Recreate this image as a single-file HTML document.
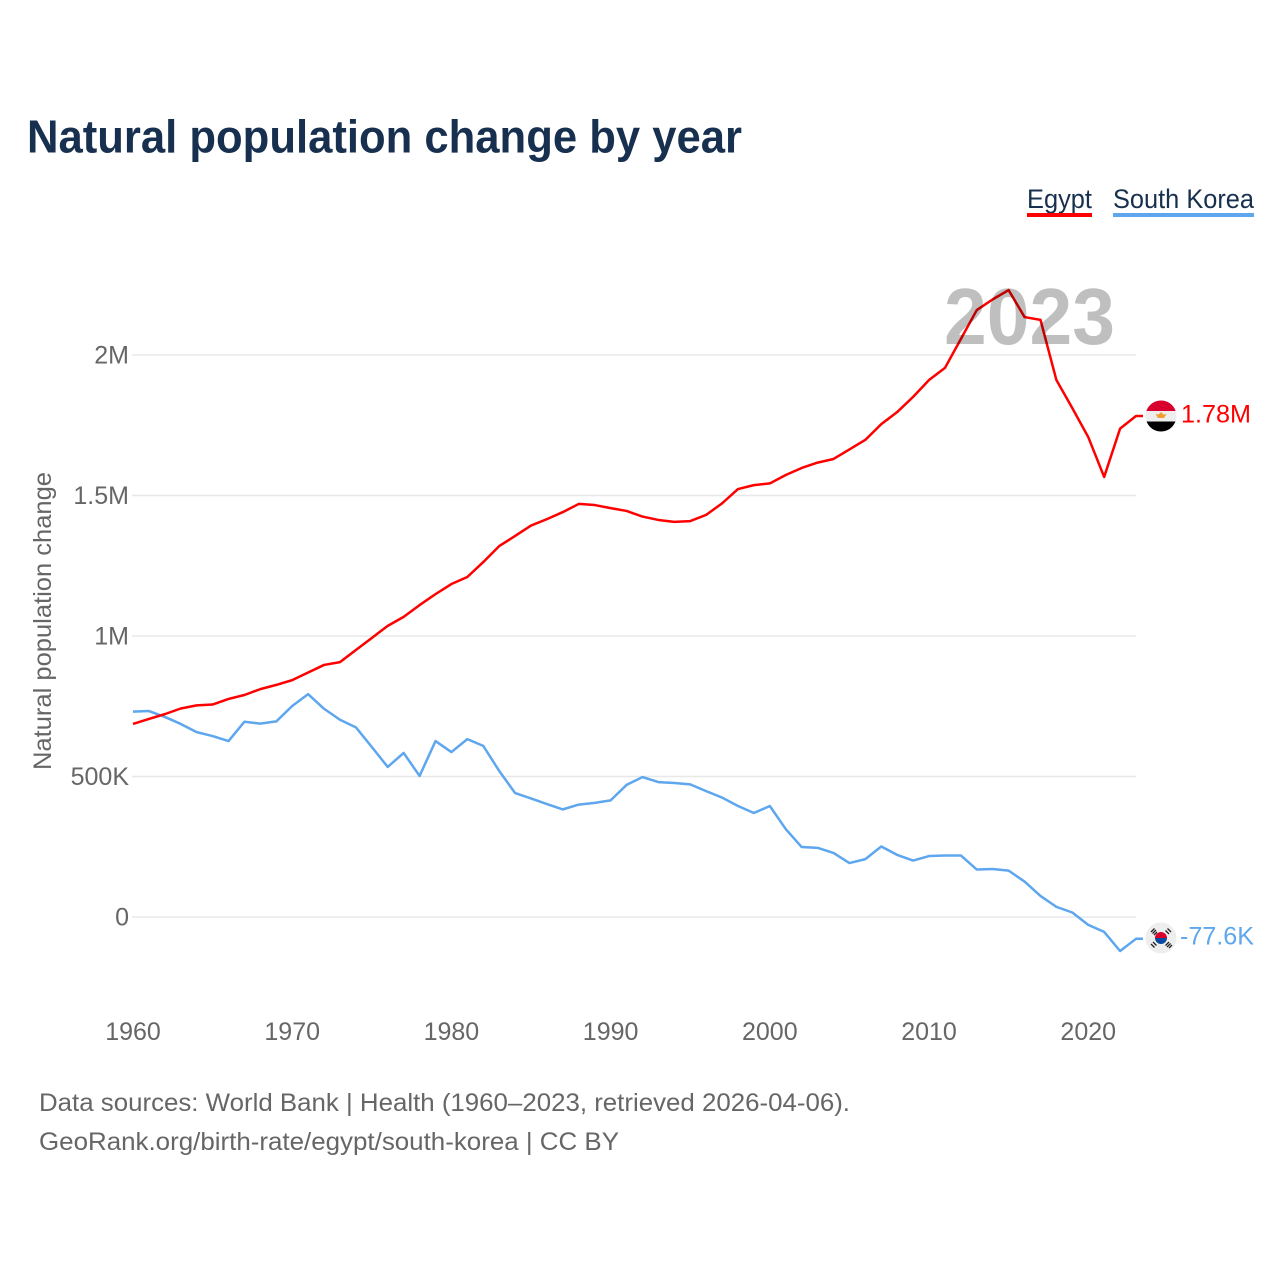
<!DOCTYPE html>
<html lang="en">
<head>
<meta charset="utf-8">
<title>Natural population change by year</title>
<style>
html,body{margin:0;padding:0;background:#fff;}
svg{display:block;font-family:"Liberation Sans",Arial,sans-serif;}
</style>
</head>
<body>
<svg id="chart" width="1280" height="1280" viewBox="0 0 1280 1280" xmlns="http://www.w3.org/2000/svg">
  <rect x="0" y="0" width="1280" height="1280" fill="#fff"/>
  <text x="27" y="152.500" font-size="46" font-weight="700" fill="#18304f" textLength="715" lengthAdjust="spacingAndGlyphs">Natural population change by year</text>

  <g>
    <g>
      <text x="1027" y="208" font-size="27" fill="#18304f" textLength="65" lengthAdjust="spacingAndGlyphs">Egypt</text>
      <rect x="1027" y="213" width="65" height="4" fill="#ff0000"/>
    </g>
    <g>
      <text x="1113" y="208" font-size="27" fill="#18304f" textLength="141" lengthAdjust="spacingAndGlyphs">South Korea</text>
      <rect x="1113" y="213" width="141" height="4" fill="#5ea6ee"/>
    </g>
  </g>

  <g id="grid"></g>
  <g id="yticks"></g>
  <g id="xticks"></g>
  <text transform="translate(51,770) rotate(-90)" font-size="25" fill="#666" textLength="298" lengthAdjust="spacingAndGlyphs">Natural population change</text>

  <g id="series"></g>

  <text x="944" y="344" font-size="80" font-weight="700" fill="#000" fill-opacity="0.25" textLength="171" lengthAdjust="spacingAndGlyphs">2023</text>

  <g>
    <clipPath id="clip-eg"><circle cx="1161" cy="416" r="15.5"/></clipPath>
    <g clip-path="url(#clip-eg)">
      <rect x="1145" y="400" width="32" height="11" fill="#d8002d"/>
      <rect x="1145" y="411" width="32" height="10.5" fill="#eeeeee"/>
      <rect x="1145" y="421.5" width="32" height="11" fill="#000"/>
      <path d="M1155.500 414l3 .5 2.500-2.500 2.500 2.500 3-.5-2.500 4h-6z" fill="#f0a030"/>
    </g>
  </g>
  <g>
    <circle cx="1161" cy="938" r="15.500" fill="#eeeeee"/>
    <path d="M1155 938a6 6 0 0 1 12 0z" fill="#d9002c"/>
    <path d="M1155 938h12a6 6 0 0 1 -12 0z" fill="#0a4aa0"/>
    <g stroke="#222" stroke-width="1.300" fill="none">
      <path d="M1151 932l3.500 -3.500M1152.500 933.500l3.500 -3.500M1154 935l3 -3"/>
      <path d="M1165.500 930.500l3.500 3.500M1167.500 928.500l3.500 3.500"/>
      <path d="M1151 944l3.500 3.500M1153 942l3.500 3.500"/>
      <path d="M1169 942l-3.500 3.500M1170.500 943.500l-3.500 3.500M1172 945l-3 3"/>
    </g>
  </g>

  <text x="1181" y="422.500" font-size="25" fill="#ff0000" textLength="70" lengthAdjust="spacingAndGlyphs">1.78M</text>
  <text x="1180" y="944.500" font-size="25" fill="#5ea6ee" textLength="74" lengthAdjust="spacingAndGlyphs">-77.6K</text>

  <text x="39" y="1111" font-size="25" fill="#666" textLength="811" lengthAdjust="spacingAndGlyphs">Data sources: World Bank | Health (1960–2023, retrieved 2026-04-06).</text>
  <text x="39" y="1150" font-size="25" fill="#666" textLength="580" lengthAdjust="spacingAndGlyphs">GeoRank.org/birth-rate/egypt/south-korea | CC BY</text>
</svg>
<script>
const years = [1960,1961,1962,1963,1964,1965,1966,1967,1968,1969,1970,1971,1972,1973,1974,1975,1976,1977,1978,1979,1980,1981,1982,1983,1984,1985,1986,1987,1988,1989,1990,1991,1992,1993,1994,1995,1996,1997,1998,1999,2000,2001,2002,2003,2004,2005,2006,2007,2008,2009,2010,2011,2012,2013,2014,2015,2016,2017,2018,2019,2020,2021,2022,2023];
const egyptValues = [687,705,722,742,753,756,776,790,811,826,843,870,897,907,950,993,1036,1068,1110,1149,1185,1210,1263,1320,1356,1393,1416,1441,1470,1466,1455,1445,1425,1413,1406,1409,1431,1472,1523,1537,1543,1573,1598,1617,1630,1664,1698,1754,1797,1851,1911,1954,2057,2160,2198,2231,2135,2125,1911,1811,1708,1566,1738,1783];
const koreaValues = [731,733,712,687,658,644,626,695,688,696,751,793,741,702,675,605,534,584,502,626,587,633,609,520,441,422,402,383,400,406,415,470,498,480,477,472,448,425,395,370,395,313,249,246,228,192,206,251,221,201,217,219,219,169,171,165,126,75,36,16,-28,-53,-121,-77.6];
const yTickValues = [0,500,1000,1500,2000];
const yTickLabels = ["0","500K","1M","1.5M","2M"];
const xTickValues = [1960,1970,1980,1990,2000,2010,2020];

const NS = "http://www.w3.org/2000/svg";
function xScale(year){ return 133 + (year - 1960) * (1136 - 133) / 63; }
function yScale(value){ return 917 - value * 0.281; }

const grid = document.getElementById("grid");
const yticks = document.getElementById("yticks");
const xticks = document.getElementById("xticks");
const series = document.getElementById("series");

yTickValues.forEach(function(v, i){
  const line = document.createElementNS(NS, "line");
  
  
  line.setAttribute("x1", xScale(1960) - 1);
  line.setAttribute("x2", xScale(2023));
  line.setAttribute("y1", yScale(v));
  line.setAttribute("y2", yScale(v));
  line.setAttribute("stroke", "#e8e8e8");
  line.setAttribute("stroke-width", "1.5");
  grid.appendChild(line);

  const label = document.createElementNS(NS, "text");
  
  
  label.setAttribute("x", 129);
  label.setAttribute("y", yScale(v) + 8.5);
  label.setAttribute("text-anchor", "end");
  label.setAttribute("font-size", "25");
  label.setAttribute("fill", "#666");
  label.textContent = yTickLabels[i];
  yticks.appendChild(label);
});

xTickValues.forEach(function(y){
  const label = document.createElementNS(NS, "text");
  
  
  label.setAttribute("x", xScale(y));
  label.setAttribute("y", 1040);
  label.setAttribute("text-anchor", "middle");
  label.setAttribute("font-size", "25");
  label.setAttribute("fill", "#666");
  label.textContent = String(y);
  xticks.appendChild(label);
});

function linePath(values){
  let d = "";
  values.forEach(function(v, i){
    d += (i ? "L" : "M") + xScale(years[i]).toFixed(2) + " " + yScale(v).toFixed(2);
  });
  d += "L" + (xScale(years[years.length - 1]) + 7).toFixed(2) + " " + yScale(values[values.length - 1]).toFixed(2);
  return d;
}

const koreaLine = document.createElementNS(NS, "path");


koreaLine.setAttribute("d", linePath(koreaValues));
koreaLine.setAttribute("fill", "none");
koreaLine.setAttribute("stroke", "#5ea6ee");
koreaLine.setAttribute("stroke-width", "2.5");
koreaLine.setAttribute("stroke-linejoin", "round");
series.appendChild(koreaLine);

const egyptLine = document.createElementNS(NS, "path");


egyptLine.setAttribute("d", linePath(egyptValues));
egyptLine.setAttribute("fill", "none");
egyptLine.setAttribute("stroke", "#ff0000");
egyptLine.setAttribute("stroke-width", "2.5");
egyptLine.setAttribute("stroke-linejoin", "round");
series.appendChild(egyptLine);
</script>
</body>
</html>
